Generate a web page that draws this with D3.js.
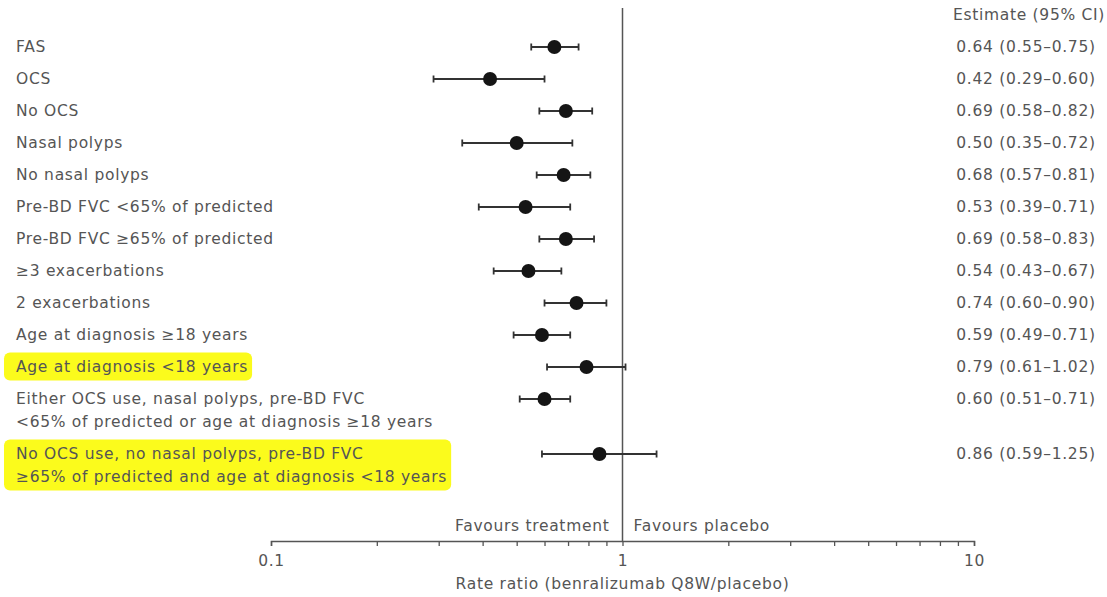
<!DOCTYPE html>
<html>
<head>
<meta charset="utf-8">
<script src="https://cdn.jsdelivr.net/npm/d3@7"></script>
<style>
  body { margin: 0; background: #fff; }
  svg text { font-family: "DejaVu Sans", sans-serif; fill: #555; letter-spacing: 0.7px; }
</style>
</head>
<body>
<div id="chart"></div>
<script>
// subgroup labels, "\n" splits a label over two lines
const labels = [
  "FAS",
  "OCS",
  "No OCS",
  "Nasal polyps",
  "No nasal polyps",
  "Pre-BD FVC <65% of predicted",
  "Pre-BD FVC \u226565% of predicted",
  "\u22653 exacerbations",
  "2 exacerbations",
  "Age at diagnosis \u226518 years",
  "Age at diagnosis <18 years",
  "Either OCS use, nasal polyps, pre-BD FVC\n<65% of predicted or age at diagnosis \u226518 years",
  "No OCS use, no nasal polyps, pre-BD FVC\n\u226565% of predicted and age at diagnosis <18 years"
];
const estimate = [0.64, 0.42, 0.69, 0.50, 0.68, 0.53, 0.69, 0.54, 0.74, 0.59, 0.79, 0.60, 0.86];
const lower    = [0.55, 0.29, 0.58, 0.35, 0.57, 0.39, 0.58, 0.43, 0.60, 0.49, 0.61, 0.51, 0.59];
const upper    = [0.75, 0.60, 0.82, 0.72, 0.81, 0.71, 0.83, 0.67, 0.90, 0.71, 1.02, 0.71, 1.25];
const highlighted = ["Age at diagnosis <18 years",
  "No OCS use, no nasal polyps, pre-BD FVC\n\u226565% of predicted and age at diagnosis <18 years"];
const majorTicks = [0.1, 1, 10];

const width = 1107, height = 597;
const fontSize = "15.5px";
const lineGap = 23 / 32;   // second line of a wrapped label, in row units

// row slot of each subgroup (wrapped labels push the next row down)
let slot = 0;
const data = labels.map((l, i) => {
  const lines = l.split("\n");
  const d = {label: l, lines: lines, est: estimate[i], lo: lower[i], hi: upper[i], slot: slot};
  slot += 1 + (lines.length - 1) * lineGap;
  return d;
});

const x = d3.scaleLog().domain([0.1, 10]).range([271, 974]);
const y = d3.scaleLinear().domain([0, 1]).range([47, 79]);
const axisY = 541;

const svg = d3.select("#chart").append("svg")
              .attr("width", width)
              .attr("height", height);

// yellow highlighter behind two labels
const hl = svg.append("g");
const labelG = svg.append("g");

data.forEach(d => {
  const t = labelG.append("text")
     .attr("x", 16)
     .attr("y", y(d.slot))
     .style("font-size", fontSize);
  d.lines.forEach((line, k) => {
    t.append("tspan")
     .attr("x", 16)
     .attr("dy", k === 0 ? "0.35em" : "23px")
     .text(line);
  });
  if (highlighted.includes(d.label)) {
    const bb = t.node().getBBox();
    hl.append("rect")
      .attr("x", bb.x - 12)
      .attr("y", bb.y - 6)
      .attr("width", bb.width + 16)
      .attr("height", bb.height + 10)
      .attr("rx", 6)
      .style("fill", "#fbfb1c");
  }
});

// line of no effect
svg.append("line")
   .attr("x1", x(1)).attr("x2", x(1))
   .attr("y1", 8).attr("y2", axisY)
   .style("stroke", "#555")
   .style("stroke-width", 1.5);

// confidence intervals
const ci = svg.append("g").selectAll("g")
   .data(data)
   .enter().append("g")
   .style("stroke", "#333")
   .style("stroke-width", 1.8);

ci.append("line")
  .attr("x1", d => x(d.lo)).attr("x2", d => x(d.hi))
  .attr("y1", d => y(d.slot)).attr("y2", d => y(d.slot));
ci.append("line")
  .attr("x1", d => x(d.lo)).attr("x2", d => x(d.lo))
  .attr("y1", d => y(d.slot) - 3.5).attr("y2", d => y(d.slot) + 3.5);
ci.append("line")
  .attr("x1", d => x(d.hi)).attr("x2", d => x(d.hi))
  .attr("y1", d => y(d.slot) - 3.5).attr("y2", d => y(d.slot) + 3.5);

svg.append("g").selectAll("circle")
   .data(data)
   .enter().append("circle")
   .attr("cx", d => x(d.est))
   .attr("cy", d => y(d.slot))
   .attr("r", 7)
   .style("fill", "#151515");

// estimate column
svg.append("text")
   .attr("x", 1029).attr("y", 15)
   .attr("dy", "0.35em")
   .attr("text-anchor", "middle")
   .style("font-size", fontSize)
   .text("Estimate (95% CI)");

svg.append("g").selectAll("text")
   .data(data)
   .enter().append("text")
   .attr("x", 1026)
   .attr("y", d => y(d.slot))
   .attr("dy", "0.35em")
   .attr("text-anchor", "middle")
   .style("font-size", fontSize)
   .text(d => d3.format(".2f")(d.est) + " (" + d3.format(".2f")(d.lo) + "\u2013" + d3.format(".2f")(d.hi) + ")");

// x axis, log scale with minor ticks
const tickVals = [];
[0.1, 1].forEach(dec => { for (let k = 1; k < 10; k++) tickVals.push(+(dec * k).toPrecision(2)); });
tickVals.push(10);

const ax = svg.append("g")
   .attr("transform", "translate(0," + axisY + ")")
   .call(d3.axisBottom(x)
           .tickValues(tickVals)
           .tickSize(5)
           .tickPadding(9)
           .tickFormat(d => majorTicks.includes(d) ? String(d) : ""));
ax.select(".domain").style("stroke", "#555").style("stroke-width", 1.5);
ax.selectAll(".tick line").style("stroke", "#555").style("stroke-width", 1.3);
ax.selectAll(".tick text")
  .style("font-family", "\"DejaVu Sans\", sans-serif")
  .style("font-size", fontSize)
  .style("fill", "#555");

// favours labels
svg.append("text")
   .attr("x", x(1) - 13).attr("y", 526)
   .attr("dy", "0.35em")
   .attr("text-anchor", "end")
   .style("font-size", fontSize)
   .text("Favours treatment");
svg.append("text")
   .attr("x", x(1) + 11).attr("y", 526)
   .attr("dy", "0.35em")
   .style("font-size", fontSize)
   .text("Favours placebo");

// axis title
svg.append("text")
   .attr("x", x(1)).attr("y", 584)
   .attr("dy", "0.35em")
   .attr("text-anchor", "middle")
   .style("font-size", fontSize)
   .text("Rate ratio (benralizumab Q8W/placebo)");
</script>
</body>
</html>
